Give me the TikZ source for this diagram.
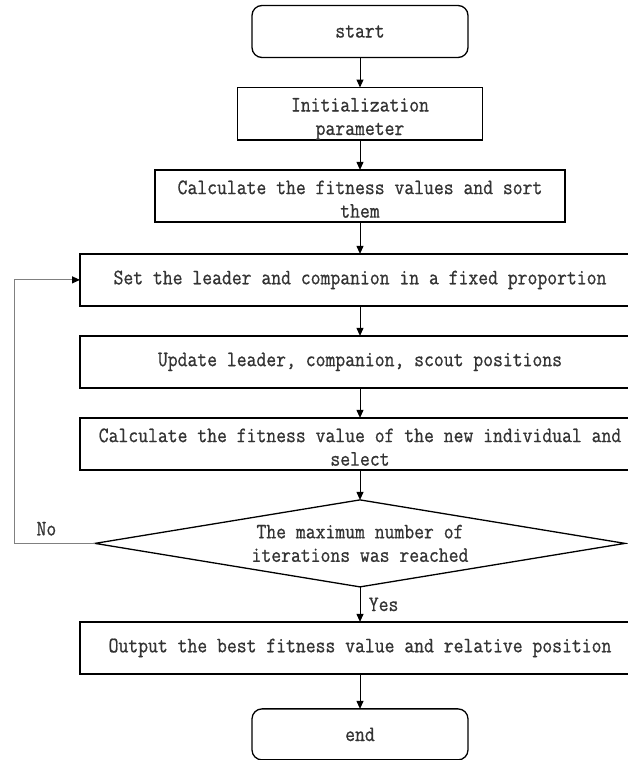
\documentclass[tikz,border=0pt]{standalone}
\usepackage{fontspec}
\setmonofont{Latin Modern Mono}[FakeBold=0.8,FakeStretch=0.87]
\usetikzlibrary{shapes.geometric,positioning,arrows.meta}
% two lines of text, sitting low in the box
\newcommand{\twoline}[2]{\rule{0pt}{24pt}#1\\#2\rule[-4pt]{0pt}{4pt}}

\begin{document}
\begin{tikzpicture}[x=1pt,y=1pt,->,>={Triangle[length=8pt,width=7pt]},node distance=30pt,line width=1pt]
\tikzstyle{every node}=[font=\ttfamily\fontsize{22}{23.5}\selectfont,text=black!80]
\tikzstyle{terminal}=[draw=black,line width=1.3pt,outer sep=0pt,rounded corners=10pt,minimum width=216pt,minimum height=52pt]
\tikzstyle{process}=[draw=black,line width=1.3pt,outer sep=0pt,minimum height=52pt,align=center,inner sep=0pt]
\tikzstyle{decision}=[draw=black,line width=1.3pt,outer sep=0pt,diamond,aspect=6,minimum width=530pt,minimum height=87pt,inner sep=0pt,align=center]
\useasboundingbox (0,0) rectangle (628,-760);
\node[terminal] (start) at (360,-31.5) {start};
\node[process,minimum width=245pt] (init) [below=of start] {\twoline{Initialization}{parameter}};
\node[process,minimum width=410pt] (calc) [below=of init] {\twoline{Calculate the fitness values and sort}{them}};
\node[process,minimum width=560pt] (set) [below=32pt of calc] {Set the leader and companion in a fixed proportion};
\node[process,minimum width=560pt] (update) [below=of set] {Update leader, companion, scout positions};
\node[process,minimum width=560pt] (select) [below=of update] {\twoline{Calculate the fitness value of the new individual and}{select}};
\node[decision] (check) [below=of select] {The maximum number of\\iterations was reached};
\node[process,minimum width=560pt] (output) [below=35pt of check] {Output the best fitness value and relative position};
\node[terminal,minimum height=51pt] (end) [below=35pt of output] {end};

\path
(start) edge (init)
(init) edge (calc)
(calc) edge (set)
(set) edge (update)
(update) edge (select)
(select) edge (check)
(check) edge node[right=5pt]{Yes} (output)
(output) edge (end);

\draw[gray,-{Triangle[length=8pt,width=7pt,black]}] (check.west) -- ++(-81,0) node[pos=0.6,above=4pt]{No} |- (set.west);
\end{tikzpicture}
\end{document}
